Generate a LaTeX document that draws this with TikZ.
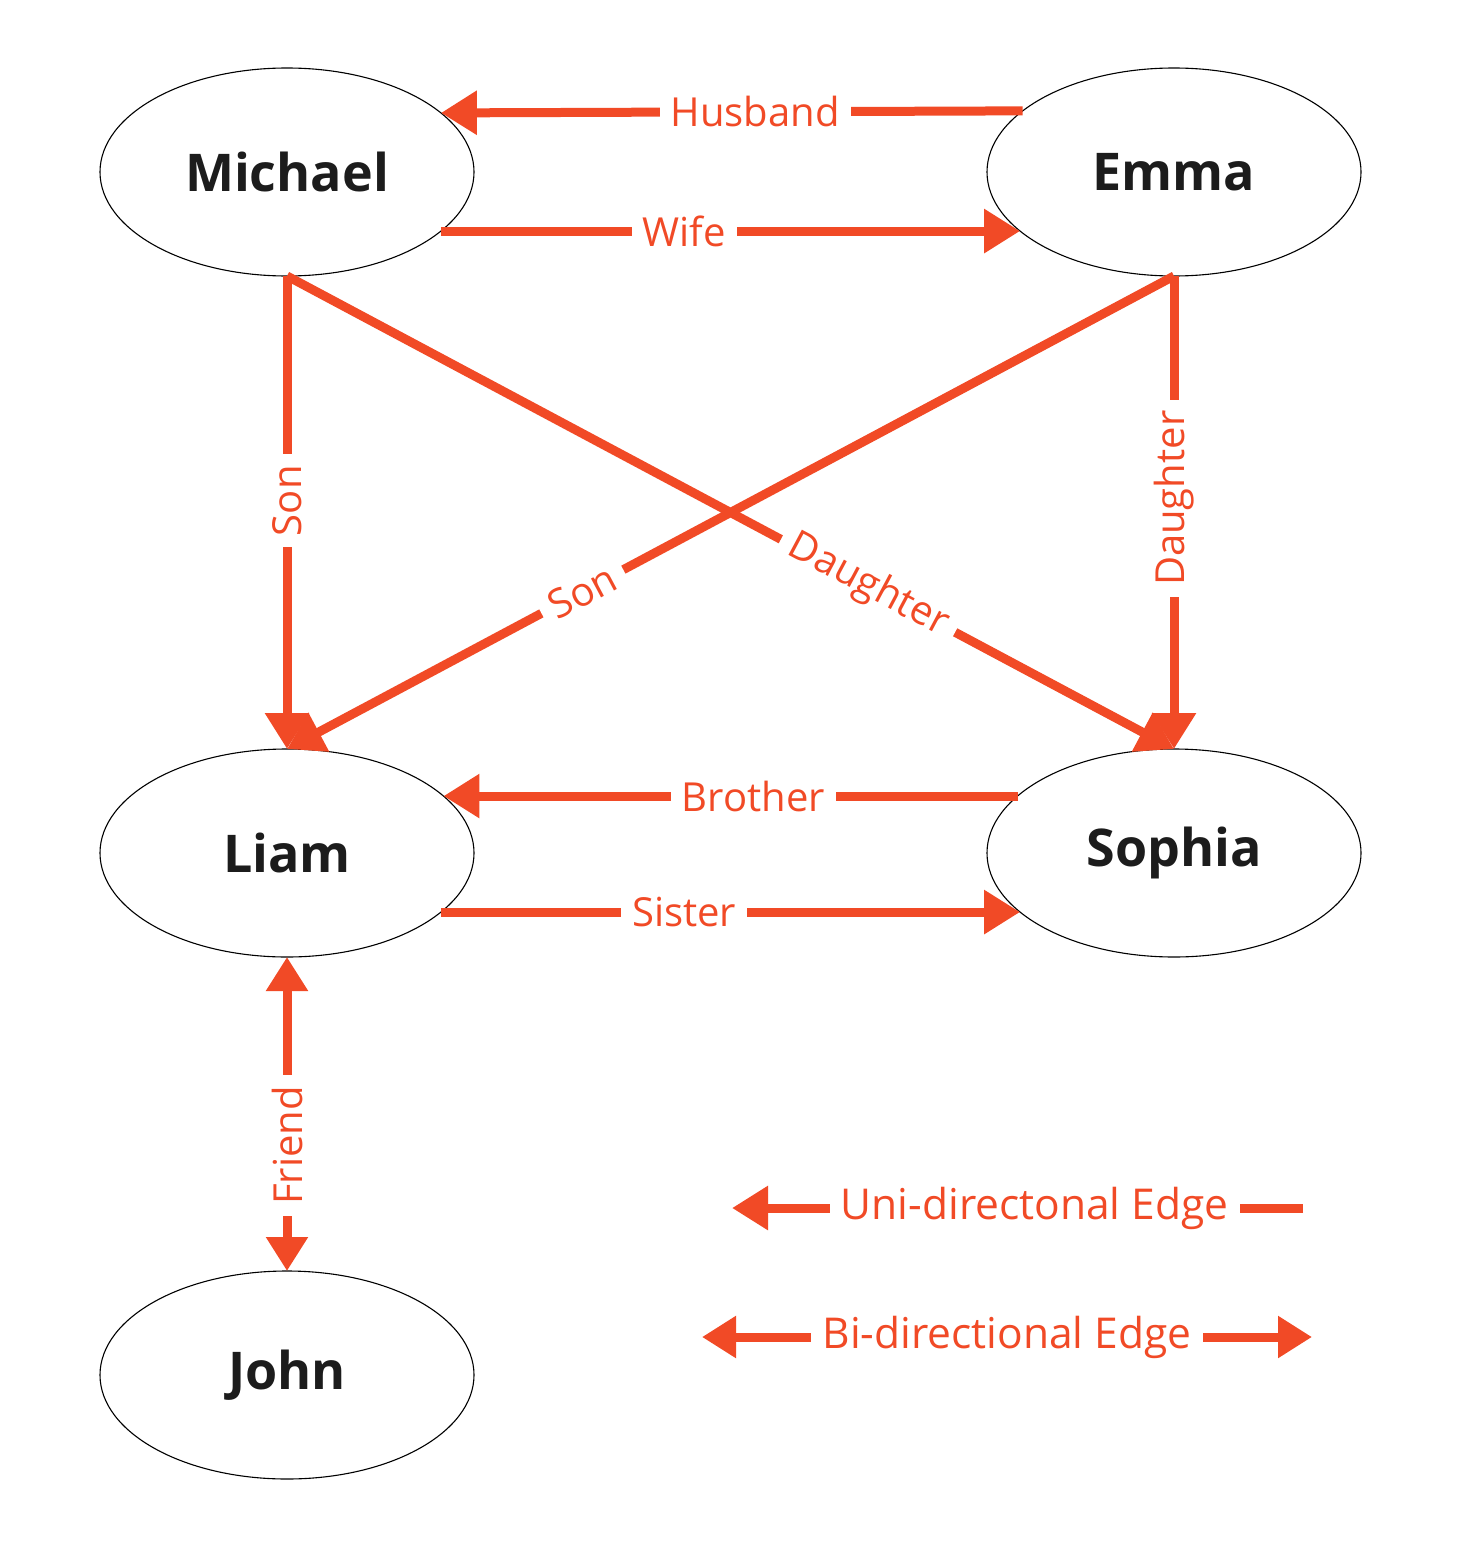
\documentclass[tikz,border=0pt]{standalone}
\usepackage{fontspec}
\setmainfont{Open Sans}
\usetikzlibrary{arrows.meta,shapes.geometric}
\definecolor{edgecol}{RGB}{241,74,38}
\definecolor{namecol}{RGB}{28,28,28}
\begin{document}
\begin{tikzpicture}[x=1pt,y=-1pt,
  person/.style={draw=black,line width=1.1pt,ellipse,minimum width=374pt,minimum height=208pt,inner sep=0pt,outer sep=0pt,
    font=\fontsize{52}{60}\selectfont\bfseries,text=namecol},
  rel/.style={draw=edgecol,line width=9pt,-{Triangle[length=36pt,width=42pt]}},
  birel/.style={draw=edgecol,line width=9pt,{Triangle[length=34pt,width=40pt]}-{Triangle[length=34pt,width=40pt]}},
  lbl/.style={fill=white,text=edgecol,font=\fontsize{40}{48}\selectfont,inner xsep=11pt,inner ysep=4pt},
  leg/.style={lbl,font=\fontsize{42.5}{50}\selectfont}
]
\useasboundingbox (0,0) rectangle (1456,1546);
\node[person] (mic) at (287,172) {Michael};
\node[person] (emma) at (1174,172) {Emma};
\node[person] (liam) at (287,853) {Liam};
\node[person] (soph) at (1174,853) {Sophia};
\node[person] (john) at (287,1375) {John};

\draw[rel] (emma.158.7) -- node[lbl,pos=0.46] {Husband} (mic.21.4);
\draw[rel] (mic.-21) -- node[lbl,pos=0.42] {Wife} (emma.201);
\draw[rel] (mic.south) -- node[lbl,pos=0.475,rotate=90] {Son} (liam.north);
\draw[rel] (mic.south) -- node[lbl,pos=0.655,sloped] {Daughter} (soph.north);
\draw[rel] (emma.south) -- node[lbl,pos=0.667,sloped] {Son} (liam.north);
\draw[rel] (emma.south) -- node[lbl,pos=0.47,rotate=90] {Daughter} (soph.north);
\draw[rel] (soph.160) -- node[lbl,pos=0.46] {Brother} (liam.20);
\draw[rel] (liam.-21) -- node[lbl,pos=0.42] {Sister} (soph.201);
\draw[birel] (liam.south) -- node[lbl,pos=0.60,rotate=90] {Friend} (john.north);

\coordinate (u1) at (1303,1208);
\coordinate (u2) at (732,1208);
\coordinate (b1) at (702,1337);
\coordinate (b2) at (1312,1337);
\draw[rel] (u1) -- node[leg,pos=0.47] {Uni-directonal Edge} (u2);
\draw[birel] (b1) -- node[leg,pos=0.50] {Bi-directional Edge} (b2);
\end{tikzpicture}
\end{document}
